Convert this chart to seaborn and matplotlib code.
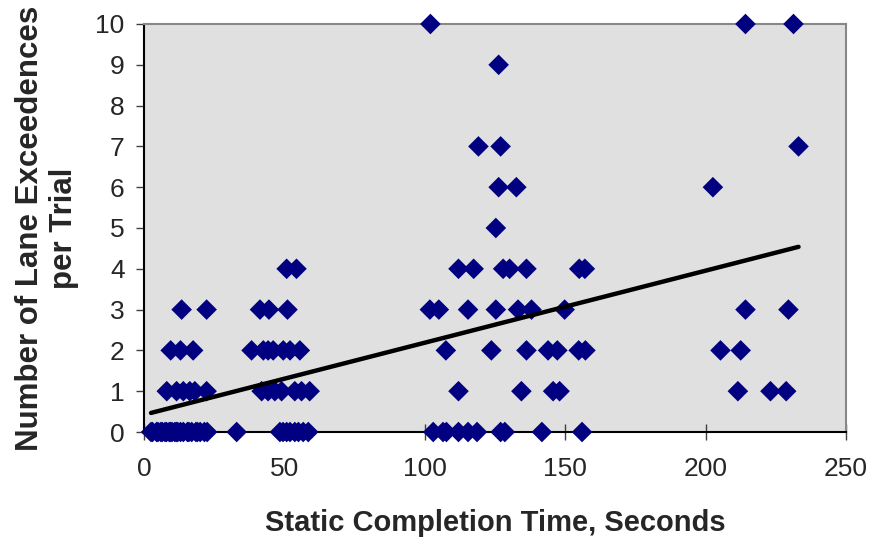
import matplotlib
matplotlib.use("Agg")
import matplotlib.pyplot as plt
import seaborn as sns
import numpy as np
import pandas as pd

# Static completion time (s) and lane exceedences per trial, grouped by count
# (the dense clusters at 0 hide many overlapping trials)
t0 = [2.5, 3, 4.5, 5, 6, 6.5, 7.5, 8, 9, 9.5, 10, 11, 11.5, 12,
      13, 14, 15.5, 16, 17, 18.5, 19, 20, 21.5, 22.5, 33,
      48.4, 49.5, 50.8, 52, 53.7, 55, 56.7, 58.5,
      103, 106.5, 107.7, 112, 115.4, 118.6, 127, 128.5, 141.7, 156]
t1 = [8.1, 11.6, 14, 16.3, 18.1, 22.3,
      41.9, 44.2, 46.6, 49, 53.7, 56.1, 59,
      112, 134.4, 145.7, 148,
      211.5, 223.1, 228.7]
t2 = [9.5, 13, 17.5,
      38.3, 42.5, 44.2, 46, 49.6, 52, 55.5,
      107.5, 123.7, 136.2, 143.9, 147.2, 154.8, 157.2,
      205.3, 212.5]
t3 = [13.4, 22.3, 41.3, 44.5, 51.1,
      101.8, 105, 115.4, 125.3, 133.2, 138, 149.8,
      214.2, 229.5]
t4 = [50.8, 54.3, 112, 117.4, 127.9, 130.2, 136.2, 155, 157]
t5 = [125.3]
t6 = [126.3, 132.6, 202.6]
t7 = [119.1, 127, 233.1]
t9 = [126.3]
t10 = [102, 214.2, 231.3]

groups = {0: t0, 1: t1, 2: t2, 3: t3, 4: t4, 5: t5, 6: t6, 7: t7, 9: t9, 10: t10}
xs, ys = [], []
for k, v in groups.items():
    xs += v
    ys += [k] * len(v)
df = pd.DataFrame({"time": xs, "exc": ys})

x_ticks = [0, 50, 100, 150, 200, 250]
y_ticks = list(range(0, 11))

sns.set_theme(style="white")
plt.rcParams["font.family"] = ["Liberation Sans", "DejaVu Sans"]

fig = plt.figure(figsize=(8.73, 5.5), dpi=100)
ax = fig.add_axes([144/873, 1-432/550, (846-144)/873, (432-24)/550])
ax.set_facecolor("#E0E0E0")

sns.regplot(data=df, x="time", y="exc", ax=ax, ci=None, marker="D",
            scatter_kws=dict(color="#000080", s=110, edgecolors="none",
                             clip_on=False, zorder=3, alpha=1),
            line_kws=dict(color="black", lw=3.2, zorder=4, solid_capstyle="round"))

ax.set_xlim(0, 250)
ax.set_ylim(0, 10)
ax.set_xticks(x_ticks)
ax.set_yticks(y_ticks)
ax.tick_params(axis="x", direction="inout", length=12, width=1, color="#404040",
               labelsize=19, pad=12, bottom=True)
ax.tick_params(axis="y", direction="out", length=6, width=1, color="#404040",
               labelsize=19, pad=8, left=True)
for s in ["left", "bottom"]:
    ax.spines[s].set_color("black")
    ax.spines[s].set_linewidth(1.5)
for s in ["top", "right"]:
    ax.spines[s].set_color("#888888")
    ax.spines[s].set_linewidth(1.5)

ax.set_xlabel("Static Completion Time, Seconds", fontsize=21, fontweight="bold", labelpad=20)
ax.set_ylabel("Number of Lane Exceedences\nper Trial", fontsize=22.5, fontweight="bold",
              labelpad=12, linespacing=1.15)

fig.savefig("out.png", dpi=100)
